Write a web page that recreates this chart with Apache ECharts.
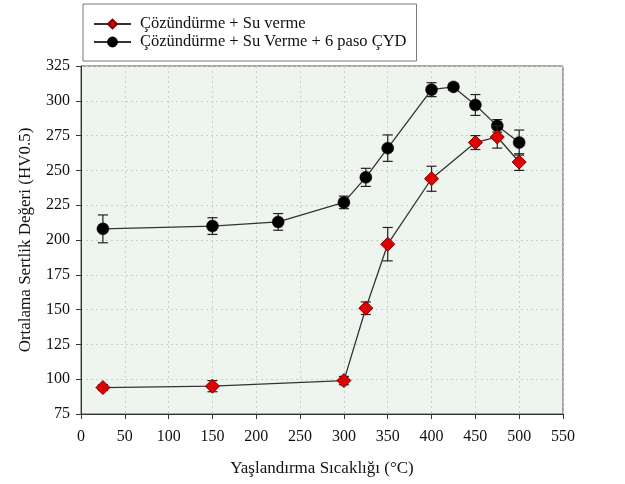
<!DOCTYPE html>
<html>
<head>
<meta charset="utf-8">
<script src="https://cdn.jsdelivr.net/npm/echarts@6/dist/echarts.min.js"></script>
<style>html,body{margin:0;padding:0;background:#fff;}#c{width:625px;height:484px;}</style>
</head>
<body>
<div id="c"></div>
<script>
// Data
const redName = 'Çözündürme + Su verme';
const blackName = 'Çözündürme + Su Verme + 6 paso ÇYD';
const redTemps = [25, 150, 300, 325, 350, 400, 450, 475, 500];
const redMeans = [94, 95, 99, 151, 197, 244, 270, 274, 256];
const redErrs  = [2, 4, 3, 4.5, 12, 9, 5, 8, 6];
const blackTemps = [25, 150, 225, 300, 325, 350, 400, 425, 450, 475, 500];
const blackMeans = [208, 210, 213, 227, 245, 266, 308, 310, 297, 282, 270];
const blackErrs  = [10, 6, 6, 4.5, 6.5, 9.5, 5, 2.5, 7.5, 4.5, 9];
const xTicks = [0, 550, 50];
const yTicks = [75, 325, 25];

const FONT = '"Liberation Serif", "DejaVu Serif", serif';

function pts(xs, ys) { return xs.map((x, i) => [x, ys[i]]); }
function errs(xs, ys, es) { return xs.map((x, i) => [x, ys[i] - es[i], ys[i] + es[i]]); }

function errRender(params, api) {
  const x = api.value(0);
  const lo = api.coord([x, api.value(1)]);
  const hi = api.coord([x, api.value(2)]);
  const w = 5;
  const st = { stroke: '#222', lineWidth: 1.2 };
  return {
    type: 'group',
    children: [
      { type: 'line', shape: { x1: lo[0], y1: lo[1], x2: hi[0], y2: hi[1] }, style: st },
      { type: 'line', shape: { x1: lo[0] - w, y1: lo[1], x2: lo[0] + w, y2: lo[1] }, style: st },
      { type: 'line', shape: { x1: hi[0] - w, y1: hi[1], x2: hi[0] + w, y2: hi[1] }, style: st }
    ]
  };
}

const chart = echarts.init(document.getElementById('c'), null, { renderer: 'canvas' });
chart.setOption({
  backgroundColor: '#fff',
  animation: false,
  textStyle: { fontFamily: FONT },
  legend: {
    orient: 'vertical',
    left: 83, top: 4,
    padding: [11, 10, 10, 10],
    itemGap: 0,
    itemWidth: 37, itemHeight: 11,
    borderColor: '#777', borderWidth: 1,
    backgroundColor: '#fff',
    textStyle: { fontFamily: FONT, fontSize: 16.5, lineHeight: 18, color: '#111', padding: [0, 0, 0, 4] },
    data: [redName, blackName]
  },
  grid: { left: 81, right: 62, top: 66, bottom: 70, show: true, backgroundColor: '#eef5ee', borderColor: '#555', borderWidth: 1 },
  xAxis: {
    type: 'value', min: xTicks[0], max: xTicks[1], interval: xTicks[2],
    name: 'Yaşlandırma Sıcaklığı (°C)', nameLocation: 'middle', nameGap: 46,
    nameTextStyle: { fontFamily: FONT, fontSize: 17, color: '#111' },
    axisLine: { show: true, lineStyle: { color: '#333' } },
    axisTick: { show: true, inside: false, length: 5, lineStyle: { color: '#333' } },
    axisLabel: { margin: 15, fontFamily: FONT, fontSize: 16, color: '#111' },
    splitLine: { show: true, lineStyle: { color: '#c8d0c8', type: [2, 3], width: 1 } }
  },
  yAxis: {
    type: 'value', min: yTicks[0], max: yTicks[1], interval: yTicks[2],
    name: 'Ortalama Sertlik Değeri (HV0.5)', nameLocation: 'middle', nameGap: 47,
    nameTextStyle: { fontFamily: FONT, fontSize: 17, color: '#111' },
    axisLine: { show: true, lineStyle: { color: '#333' } },
    axisTick: { show: true, inside: false, length: 5, lineStyle: { color: '#333' } },
    axisLabel: { margin: 11, fontFamily: FONT, fontSize: 16, color: '#111' },
    splitLine: { show: true, lineStyle: { color: '#c8d0c8', type: [2, 3], width: 1 } }
  },
  series: [
    {
      type: 'custom', name: 'errBlack', renderItem: errRender, z: 3,
      data: errs(blackTemps, blackMeans, blackErrs), silent: true
    },
    {
      type: 'line', name: blackName, data: pts(blackTemps, blackMeans), z: 4,
      symbol: 'circle', symbolSize: 12,
      lineStyle: { color: '#333', width: 1.3 },
      itemStyle: { color: '#000', borderColor: '#000', borderWidth: 0.5 }
    },
    {
      type: 'custom', name: 'errRed', renderItem: errRender, z: 5,
      data: errs(redTemps, redMeans, redErrs), silent: true
    },
    {
      type: 'line', name: redName, data: pts(redTemps, redMeans), z: 6,
      symbol: 'diamond', symbolSize: 14,
      lineStyle: { color: '#333', width: 1.3 },
      itemStyle: { color: '#e00000', borderColor: '#7a0000', borderWidth: 1 }
    }
  ]
});
</script>
</body>
</html>
